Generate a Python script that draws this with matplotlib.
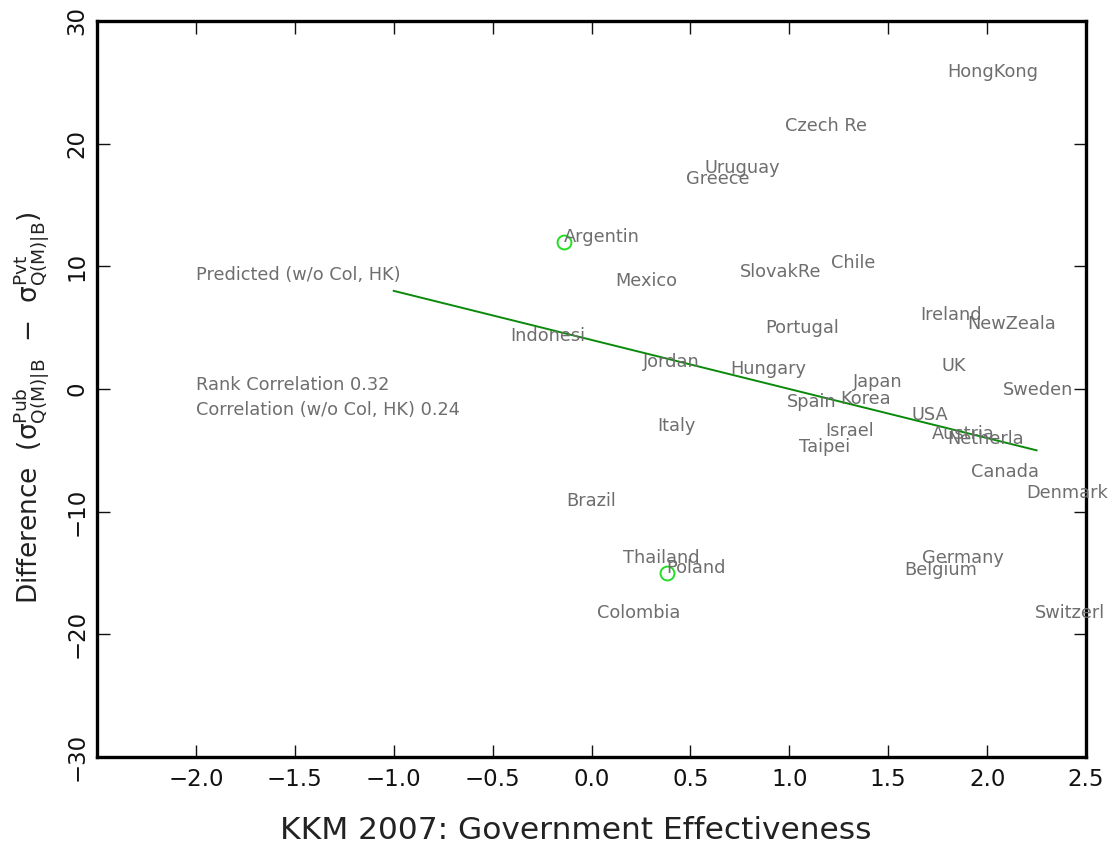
import matplotlib
matplotlib.use("Agg")
import matplotlib.pyplot as plt

# ---- data (label anchor = data point, text starts at the point) ----
countries = ["HongKong", "Czech Re", "Uruguay", "Greece", "Argentin", "Chile",
             "SlovakRe", "Mexico", "Ireland", "NewZeala", "Portugal", "Indonesi",
             "UK", "Jordan", "Hungary", "Japan", "Sweden", "Spain", "Korea", "USA",
             "Israel", "Italy", "Austria", "Netherla", "Taipei", "Canada", "Denmark",
             "Brazil", "Thailand", "Germany", "Poland", "Belgium", "Colombia", "Switzerl"]
gov_eff = [1.80, 0.98, 0.57, 0.48, -0.14, 1.21,
           0.75, 0.12, 1.66, 1.90, 0.88, -0.41,
           1.77, 0.26, 0.70, 1.32, 2.08, 0.99, 1.26, 1.62,
           1.18, 0.33, 1.72, 1.80, 1.05, 1.92, 2.20,
           -0.13, 0.16, 1.67, 0.38, 1.58, 0.03, 2.24]
difference = [25.4, 21.0, 17.6, 16.7, 12.0, 9.9,
              9.1, 8.4, 5.6, 4.9, 4.6, 3.9,
              1.5, 1.8, 1.2, 0.2, -0.5, -1.5, -1.2, -2.5,
              -3.8, -3.4, -4.1, -4.5, -5.1, -7.2, -8.9,
              -9.5, -14.2, -14.2, -15.0, -15.2, -18.7, -18.7]
highlighted = ["Argentin", "Poland"]

pred_x = [-1.0, 2.25]
pred_y = [8.0, -5.0]

notes = ["Predicted (w/o Col, HK)", "Rank Correlation 0.32", "Correlation (w/o Col, HK) 0.24"]
notes_x = [-2.0, -2.0, -2.0]
notes_y = [8.9, -0.1, -2.1]

xticks = [-2.0, -1.5, -1.0, -0.5, 0.0, 0.5, 1.0, 1.5, 2.0, 2.5]
yticks = [-30, -20, -10, 0, 10, 20, 30]

plt.rcParams["mathtext.fontset"] = "dejavusans"
fig = plt.figure(figsize=(11.15, 8.46), dpi=100)
ax = fig.add_axes([0.0870, 0.1052, 0.8870, 0.8700])

ax.set_xlim(-2.5, 2.5)
ax.set_ylim(-30, 30)

label_color = "#6e6e6e"
for name, x, y in zip(countries, gov_eff, difference):
    ax.text(x, y, name, ha="left", va="baseline", fontsize=12.8, color=label_color)
    if name in highlighted:
        ax.plot([x], [y], marker="o", markersize=10, markerfacecolor="none",
                markeredgecolor="#22dd22", markeredgewidth=1.4, linestyle="none")

ax.plot(pred_x, pred_y, color="#0a8a0a", linewidth=1.4)

for t, x, y in zip(notes, notes_x, notes_y):
    ax.text(x, y, t, ha="left", va="baseline", fontsize=12.8, color=label_color)

ax.set_xticks(xticks)
ax.set_xticklabels([f"{v:.1f}".replace("-", "\u2212") for v in xticks])
ax.set_yticks(yticks)
ax.set_yticklabels([f"{v:d}".replace("-", "\u2212") for v in yticks],
                   rotation=90, va="center")
ax.tick_params(axis="both", direction="in", length=9, width=1.0,
               top=True, right=True, labelsize=16.5, colors="#111111", pad=8)
ax.tick_params(axis="y", pad=6)

for sp in ax.spines.values():
    sp.set_linewidth(2.4)
    sp.set_color("black")

ax.set_xlabel("KKM 2007: Government Effectiveness", fontsize=22.5, color="#222222")
ax.xaxis.set_label_coords(0.484, -0.08)
ax.set_ylabel(r"Difference  ($\mathrm{\sigma}^{\mathrm{Pub}}_{\mathrm{Q(M)|B}}$  $-$  "
              r"$\mathrm{\sigma}^{\mathrm{Pvt}}_{\mathrm{Q(M)|B}}$)",
              fontsize=19, color="#222222")
ax.yaxis.set_label_coords(-0.047, 0.474)

fig.savefig("out.png", dpi=100)
